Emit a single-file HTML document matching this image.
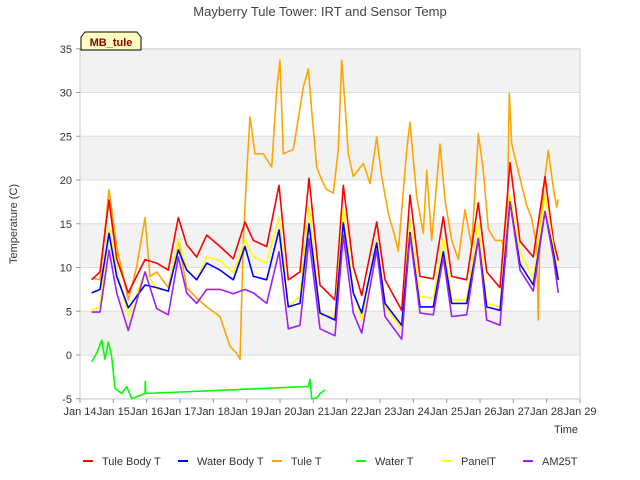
<!DOCTYPE html>
<html><head><meta charset="utf-8"><style>
body{margin:0;background:#fff;}
svg{display:block;font-family:"Liberation Sans",sans-serif;}
</style></head><body>
<svg id="chart" width="640" height="480">
<text x="320" y="16" text-anchor="middle" font-size="13" fill="#444">Mayberry Tule Tower: IRT and Sensor Temp</text>
<g id="bands"></g><g id="grid"></g>
<rect x="80" y="49" width="500" height="350" fill="none" stroke="#ccc"/>
<g id="series"></g><g id="axes"></g>
<text transform="translate(17,224) rotate(-90)" text-anchor="middle" font-size="11" fill="#333">Temperature (C)</text>
<text x="566" y="433" text-anchor="middle" font-size="11" fill="#333">Time</text>
<g><path d="M81,50 L81,37 L85,32 L137,32 L141,37 L141,50 Z" fill="#ffffc0" stroke="#000"/><text x="111" y="46" text-anchor="middle" font-size="11" font-weight="bold" fill="#8b0000">MB_tule</text></g>
<g id="legend"></g>
</svg>
<script>
const yTicks=[-5,0,5,10,15,20,25,30,35];
const xTickLabels=["Jan 14","Jan 15","Jan 16","Jan 17","Jan 18","Jan 19","Jan 20","Jan 21","Jan 22","Jan 23","Jan 24","Jan 25","Jan 26","Jan 27","Jan 28","Jan 29"];
const tCommon=[0.35,0.6,0.87,1.1,1.45,1.95,2.3,2.65,2.95,3.2,3.5,3.8,4.2,4.6,4.95,5.2,5.6,5.97,6.25,6.6,6.87,7.2,7.65,7.9,8.2,8.45,8.9,9.15,9.65,9.9,10.2,10.6,10.9,11.15,11.6,11.95,12.2,12.6,12.9,13.2,13.6,13.95,14.2,14.35];
const tuleBody=[8.6,9.5,17.7,11,7.1,10.9,10.5,9.7,15.7,12.6,11.2,13.7,12.4,11,15.2,13.1,12.4,19.4,8.6,9.5,20.2,8,6.3,19.4,10.1,6.8,15.2,8.6,5.1,18.3,9,8.7,15.8,9,8.6,17.4,9.5,7.7,22,13,11.2,20.4,13.1,10.8];
const waterBody=[7.1,7.5,13.9,9,5.4,8,7.7,7.3,12,9.7,8.6,10.5,9.7,8.6,12.4,9,8.6,14.3,5.5,5.9,15,4.8,4,15.1,7.1,4.8,12.8,5.9,3.4,14,5.5,5.5,11.8,5.9,5.9,13.3,5.5,5.1,17.5,10.4,8,16.4,11.8,8.6];
const panelT=[5.1,5.5,14.5,10,4.4,9.5,7.6,7.3,13.3,9.9,8.6,11.2,10.8,9.4,13.1,11.2,10.5,15.8,5.5,6.7,17,4.6,4.4,16.8,7.3,4,13.3,5.5,3,15.5,6.7,6.5,13.3,6.3,6.3,15.2,5.9,5.5,18.3,11.8,8.6,18.3,12.4,9];
const am25t=[4.9,4.9,12,7.1,2.8,9.5,5.3,4.6,11.2,7.1,5.9,7.5,7.5,7,7.5,7.1,5.9,11.8,3,3.4,13.3,3,2.2,13.7,4.8,2.5,12,4.4,1.8,13.7,4.8,4.6,11.2,4.4,4.6,13.3,4,3.4,17.5,9.7,7.3,16.4,11.2,7.1];
const tTule=[0.35,0.6,0.87,1.1,1.45,1.7,1.95,2.1,2.3,2.65,2.95,3.2,3.5,3.8,4.2,4.5,4.7,4.8,4.9,5.0,5.1,5.25,5.5,5.75,5.9,6.0,6.1,6.4,6.7,6.85,6.95,7.1,7.25,7.4,7.6,7.75,7.85,7.95,8.05,8.2,8.5,8.7,8.9,9.05,9.25,9.45,9.55,9.8,9.9,10.1,10.3,10.4,10.55,10.8,10.95,11.15,11.35,11.55,11.75,11.95,12.1,12.25,12.45,12.65,12.8,12.88,12.95,13.2,13.4,13.55,13.7,13.75,13.8,13.95,14.05,14.2,14.3,14.35];
const tuleT=[8.8,8.6,18.9,12.4,6.3,10.1,15.7,9,9.5,7.7,13.1,7.7,6.5,5.5,4.4,1,0.2,-0.5,13,20.8,27.2,23,23,21.5,30.3,33.7,23,23.5,30.6,32.7,27.9,21.5,20,18.9,18.5,23.5,33.7,28.7,23,20.4,21.9,19.6,24.9,20.4,16.2,13.5,11.9,23.4,26.6,18.1,13.9,21.1,13.1,24.1,17.7,13.1,10.9,16.6,12.4,25.3,21.1,14.4,13.1,13.1,11.2,29.9,24.1,20.2,17.1,15.6,12.4,4,14.3,20.4,23.4,19.1,16.9,17.8];
const tWater=[0.35,0.5,0.65,0.75,0.85,0.95,1.05,1.25,1.4,1.55,1.95,1.96,1.97,6.85,6.9,6.95,7.1,7.2,7.35];
const waterT=[-0.8,0.2,1.7,-0.5,1.5,-0.2,-3.8,-4.4,-3.6,-5,-4.4,-3,-4.4,-3.6,-2.8,-5,-4.9,-4.4,-4];
const seriesNames=["Tule Body T","Water Body T","Tule T","Water T","PanelT","AM25T"];
const colors=["#ff0000","#0000ff","#ffa500","#00ff00","#ffff00","#a020f0"];
const NS="http://www.w3.org/2000/svg";
const X=t=>80+t*500/15, Y=v=>355-v*8.75;
function mk(tag,attrs,parent){const e=document.createElementNS(NS,tag);for(const k in attrs)e.setAttribute(k,attrs[k]);parent.appendChild(e);return e;}
const bands=document.getElementById('bands'),grid=document.getElementById('grid'),axes=document.getElementById('axes');
for(let v=0;v<35;v+=10){const r=mk('rect',{x:80,y:Y(v+5),width:500,height:Y(v)-Y(v+5),fill:'#f2f2f2'},bands);

}
yTicks.forEach(v=>{const l=mk('line',{x1:80,x2:580,y1:Y(v),y2:Y(v),stroke:'#dcdcdc'},grid);


const tk=mk('line',{x1:76,x2:80,y1:Y(v),y2:Y(v),stroke:'#999'},axes);


const t=mk('text',{x:72,y:Y(v)+4,'text-anchor':'end','font-size':11,fill:'#333'},axes);t.textContent=v;

});
xTickLabels.forEach((s,i)=>{const tk=mk('line',{x1:X(i),x2:X(i),y1:399,y2:403,stroke:'#999'},axes);


const t=mk('text',{x:X(i),y:415,'text-anchor':'middle','font-size':11,fill:'#333'},axes);t.textContent=s;

});
const sg=document.getElementById('series');
function line(ts,vs,c,name){const p=mk('polyline',{points:ts.map((t,i)=>X(t).toFixed(1)+','+Y(vs[i]).toFixed(1)).join(' '),fill:'none',stroke:c,'stroke-width':1.6,'stroke-linejoin':'round'},sg);

}
line(tWater,waterT,colors[3],'water-t-line');
line(tTule,tuleT,colors[2],'tule-t-line');
line(tCommon,tuleBody,colors[0],'tule-body-t-line');
line(tCommon,panelT,colors[4],'panel-t-line');
line(tCommon,waterBody,colors[1],'water-body-t-line');
line(tCommon,am25t,colors[5],'am25t-line');
const lg=document.getElementById('legend');const lx=[83,178,272,356,442,523];
seriesNames.forEach((n,i)=>{const g=mk('g',{},lg);


mk('line',{x1:lx[i],x2:lx[i]+10,y1:461,y2:461,stroke:colors[i],'stroke-width':2},g);
const t=mk('text',{x:lx[i]+19,y:465,'font-size':11,fill:'#333'},g);t.textContent=n;});
</script>
</body></html>
